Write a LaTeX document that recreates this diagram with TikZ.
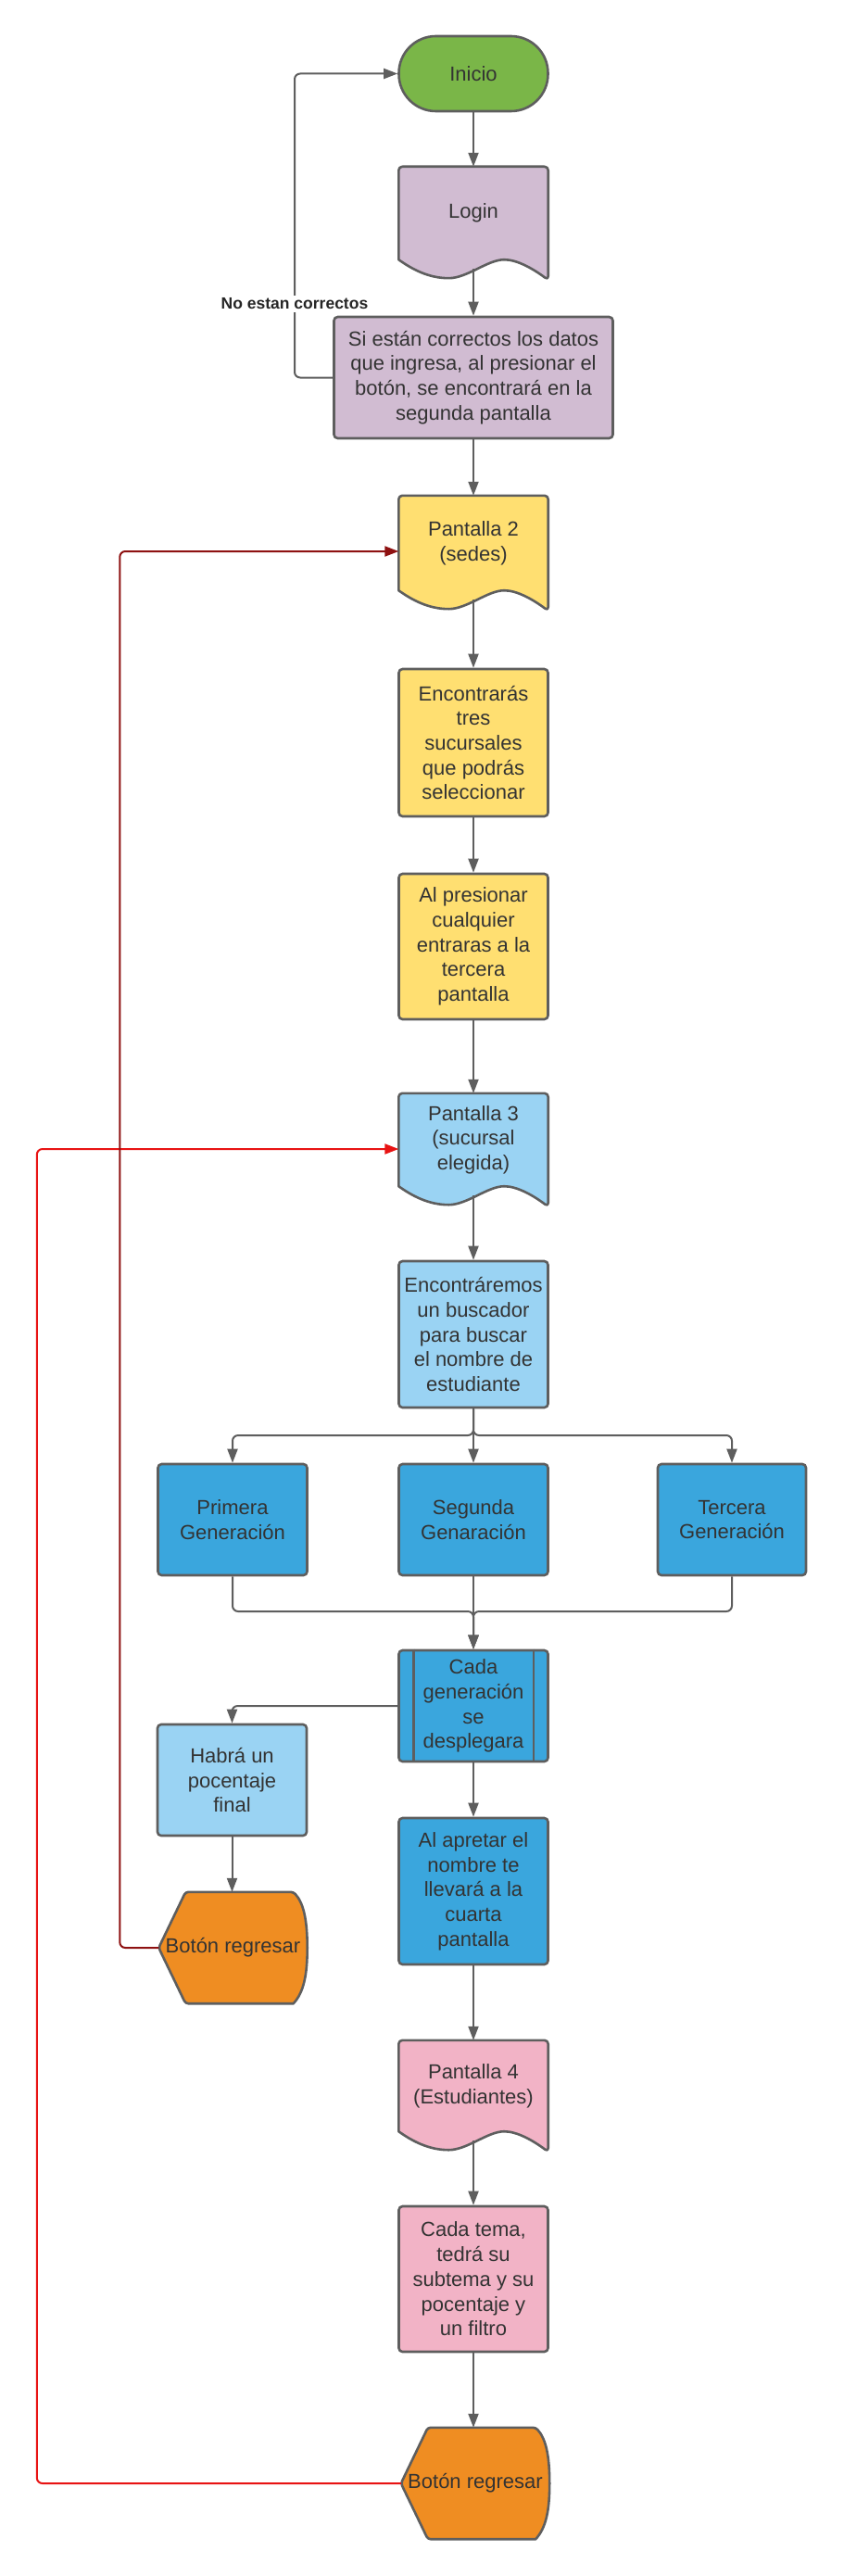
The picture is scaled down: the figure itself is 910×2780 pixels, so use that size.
\documentclass[tikz,border=0pt]{standalone}
\usepackage{fontspec}
\setmainfont{Liberation Sans}
\usetikzlibrary{arrows.meta,calc}
\definecolor{bdc}{HTML}{5E5E5E}
\definecolor{txt}{HTML}{333333}
\definecolor{cgreen}{HTML}{7AB648}
\definecolor{cpurple}{HTML}{D1BCD2}
\definecolor{cyellow}{HTML}{FFDF71}
\definecolor{clblue}{HTML}{9AD3F3}
\definecolor{cblue}{HTML}{3AA6DD}
\definecolor{cpink}{HTML}{F2B3C6}
\definecolor{corange}{HTML}{EF8D22}
\definecolor{cdred}{HTML}{8E1111}
\definecolor{cred}{HTML}{E81313}
\pgfdeclarelayer{back}
\pgfdeclarelayer{bg}
\pgfsetlayers{back,bg,main}
\tikzset{
  base/.style={inner sep=2pt, align=center, text=txt, font=\fontsize{22}{26.7}\selectfont, minimum width=161pt},
  boxn/.style={base, draw=bdc, line width=2.6pt, rounded corners=4pt, minimum height=#1},
  termn/.style={base, draw=bdc, line width=2.6pt, rounded corners=40pt, minimum height=81pt, fill=cgreen},
  docn/.style={base},
  dispn/.style={base, inner sep=0pt, minimum width=160pt, minimum height=120pt},
  shapeline/.style={draw=bdc, line width=2.6pt, line join=round},
  conn/.style={draw=bdc, line width=2pt},
  arr/.style={conn, -{Triangle[length=15pt,width=11pt]}},
  redarr/.style={draw=cred, line width=2pt, -{Triangle[length=15pt,width=11pt]}},
  dredarr/.style={draw=cdred, line width=2pt, -{Triangle[length=15pt,width=11pt]}},
  lbl/.style={fill=white, inner sep=3pt, text=black!85, font=\fontsize{17.5}{21}\selectfont\bfseries}
}
\newcommand\docshape[2]{\begin{pgfonlayer}{bg}
  \draw[shapeline, fill=#2] (#1.south west) [rounded corners=4pt] -- (#1.north west) -- (#1.north east) -- ([yshift=-22pt]#1.south east) [sharp corners]
   .. controls +(-16,12) and +(14,0) .. ([xshift=114pt]#1.south west)
   .. controls +(-18,0) and +(20,0) .. ([xshift=54pt,yshift=-20pt]#1.south west)
   .. controls +(-22,0) and +(14,-10) .. (#1.south west) -- cycle;
\end{pgfonlayer}}
\newcommand\dispshape[2]{\begin{pgfonlayer}{bg}
  \draw[shapeline, fill=#2] (#1.west) [rounded corners=3pt] -- ([xshift=29pt]#1.north west) -- ([xshift=-15pt]#1.north east) [sharp corners]
   .. controls +(11,-12) and +(0,30) .. (#1.east)
   .. controls +(0,-30) and +(11,12) .. ([xshift=-15pt]#1.south east) [rounded corners=3pt] -- ([xshift=29pt]#1.south west) -- cycle;
\end{pgfonlayer}}
\begin{document}
\begin{tikzpicture}[x=1pt,y=1pt]
\begin{pgfonlayer}{back}\fill[white] (0,0) rectangle (910,-2780);\end{pgfonlayer}
\useasboundingbox (0,0) rectangle (910,-2780);

% nodes
\node[termn] (inicio) at (511,-79.5) {Inicio};
\node[docn, minimum height=100pt] (login) at (511,-230) {Login};
\node[boxn=131pt, fill=cpurple, minimum width=301pt] (si) at (511,-407.5) {Si están correctos los datos\\que ingresa, al presionar el\\botón, se encontrará en la\\segunda pantalla};
\node[docn, minimum height=102pt] (p2) at (511,-586) {Pantalla 2\\(sedes)};
\node[boxn=159pt, fill=cyellow] (enc) at (511,-801.5) {Encontrarás\\tres\\sucursales\\que podrás\\seleccionar};
\node[boxn=157pt, fill=cyellow] (alp) at (511,-1021.5) {Al presionar\\cualquier\\entraras a la\\tercera\\pantalla};
\node[docn, minimum height=100pt] (p3) at (511,-1230) {Pantalla 3\\(sucursal\\elegida)};
\node[boxn=158pt, fill=clblue] (encm) at (511,-1440) {Encontráremos\\un buscador\\para buscar\\el nombre de\\estudiante};
\node[boxn=120pt, fill=cblue] (prim) at (251,-1640) {Primera\\Generación};
\node[boxn=120pt, fill=cblue] (seg) at (511,-1640) {Segunda\\Genaración};
\node[boxn=120pt, fill=cblue, minimum width=160pt] (ter) at (790,-1640) {Tercera\\Generación};
\node[boxn=120pt, fill=cblue] (cada) at (511,-1841) {Cada\\generación\\se\\desplegara};
\node[boxn=120pt, fill=clblue] (habra) at (250.5,-1921) {Habrá un\\pocentaje\\final};
\node[dispn] (b1) at (251.5,-2102) {Botón regresar};
\node[boxn=158pt, fill=cblue] (alap) at (511,-2041) {Al apretar el\\nombre te\\llevará a la\\cuarta\\pantalla};
\node[docn, minimum height=98pt] (p4) at (511,-2251) {Pantalla 4\\(Estudiantes)};
\node[boxn=157pt, fill=cpink] (cadat) at (511,-2459.5) {Cada tema,\\tedrá su\\subtema y su\\pocentaje y\\un filtro};
\node[dispn] (b2) at (513,-2680) {Botón regresar};

% shapes
\docshape{login}{cpurple}
\docshape{p2}{cyellow}
\docshape{p3}{clblue}
\docshape{p4}{cpink}
\dispshape{b1}{corange}
\dispshape{b2}{corange}
\draw[shapeline] ([xshift=17pt]cada.north west) -- ([xshift=17pt]cada.south west);
\draw[shapeline] ([xshift=-17pt]cada.north east) -- ([xshift=-17pt]cada.south east);

% connectors
\coordinate (loopc) at (318,-407.5);
\coordinate (split) at (511,-1549);
\coordinate (merge) at (511,-1739);
\draw[arr] (inicio.south) -- (login.north);
\draw[arr] ([yshift=-10pt]login.south) -- (si.north);
\draw[arr, rounded corners=6pt] (si.west) -- (loopc) |- (inicio.west);
\node[lbl] (nolbl) at (318,-328) {No estan correctos};
\draw[arr] (si.south) -- (p2.north);
\draw[arr] ([yshift=-10pt]p2.south) -- (enc.north);
\draw[arr] (enc.south) -- (alp.north);
\draw[arr] (alp.south) -- (p3.north);
\draw[arr] ([yshift=-10pt]p3.south) -- (encm.north);
\draw[arr, rounded corners=6pt] (encm.south) -- (split) -| (prim.north);
\draw[arr, rounded corners=6pt] (encm.south) -- (split) -| (ter.north);
\draw[arr] (encm.south) -- (seg.north);
\draw[arr, rounded corners=6pt] (prim.south) |- (merge) -- (cada.north);
\draw[arr, rounded corners=6pt] (ter.south) |- (merge) -- (cada.north);
\draw[arr] (seg.south) -- (cada.north);
\draw[arr, rounded corners=6pt] (cada.west) -| (habra.north);
\draw[arr] (habra.south) -- (habra.south |- b1.north);
\draw[arr] (cada.south) -- (alap.north);
\draw[arr] (alap.south) -- (p4.north);
\draw[arr] ([yshift=-10pt]p4.south) -- (cadat.north);
\draw[arr] (cadat.south) -- (cadat.south |- b2.north);
\draw[redarr, rounded corners=6pt] (b2.west) -- ++(-393,0) |- ([yshift=-10pt]p3.west);
\draw[dredarr, rounded corners=6pt] (b1.west) -- ++(-42,0) |- ([yshift=-9pt]p2.west);
\end{tikzpicture}
\end{document}
